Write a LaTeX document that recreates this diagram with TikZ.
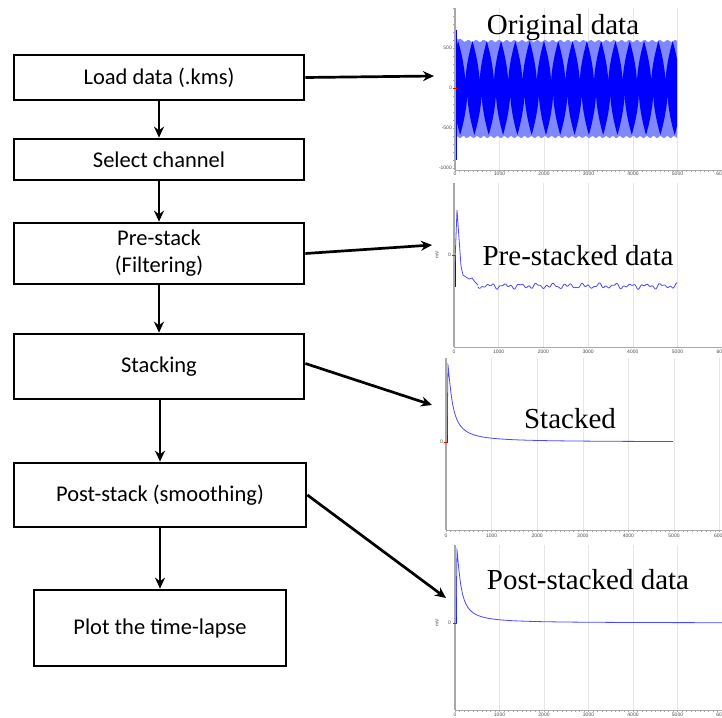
\documentclass[tikz,border=0pt]{standalone}
\usepackage{fontspec}
\setmainfont{Carlito}
\newfontfamily\titlefont{Liberation Serif}
\newfontfamily\tickfont{Liberation Sans}
\usepackage{tikz}
\usetikzlibrary{arrows.meta}
\definecolor{waveblue}{HTML}{0000FF}
\definecolor{envblue}{HTML}{8088FF}
\definecolor{traceblue}{HTML}{4848FF}
\definecolor{gridgray}{HTML}{E6E6E6}
\definecolor{axisgray}{HTML}{A8A8A8}
\tikzstyle{procbox}=[draw=black, line width=2.7pt, minimum width=290pt, font=\fontsize{22.5}{27}\selectfont, align=center, inner sep=0pt]
\tikzstyle{flow}=[->, line width=2.7pt]
\tikzstyle{plottitle}=[font=\titlefont\fontsize{29}{32}\selectfont, inner sep=0pt]
\tikzstyle{ticklab}=[font=\tickfont\fontsize{5}{6}\selectfont, text=black!70, inner sep=0pt]
\tikzstyle{grid line}=[gridgray, line width=0.6pt]
\tikzstyle{axis line}=[axisgray, line width=1.5pt]
\tikzstyle{trace}=[traceblue, line width=0.8pt]

\begin{document}
\begin{tikzpicture}[x=1pt, y=-1pt, >={Stealth[length=11pt, width=10pt]}]
	\useasboundingbox (0,0) rectangle (722,717);

	% original data
	\foreach \i in {1,...,6}
		\draw[grid line] ({455+44.5*\i},8) -- ({455+44.5*\i},170);
	\foreach \i/\lab in {0/0,1/1000,2/2000,3/3000,4/4000,5/5000,6/6000}
		\node[ticklab] at ({455+44.5*\i},174) {\lab};
	\foreach \i in {0,...,60}
		\draw[axisgray, line width=0.4pt] ({455+4.45*\i},170) -- ++(0,2);
	\foreach \j in {0,...,20}
		\draw[axisgray, line width=0.4pt] (455,{168-8*\j}) -- ++(-2,0);
	\foreach \v/\yy in {500/48,0/88,-500/128,-1000/168}
		\node[ticklab, anchor=east] at (452,\yy) {\v};
	\draw[axisgray, line width=0.5pt] (455,170) -- (722,170);
	\fill[envblue] plot[domain=0:222, samples=120] ({455+\x},{41+1.2*sin(47*\x)-6*exp(-\x/3)})
		-- plot[domain=222:0, samples=120] ({455+\x},{137-1.2*sin(53*\x)}) -- cycle;
	\fill[waveblue] plot[domain=0:222, samples=700] ({455+\x},{88-47*(0.1+0.9*pow(1-abs(2*mod(\x+4,14.3)/14.3-1),0.6))})
		-- plot[domain=222:0, samples=700] ({455+\x},{88+47*(0.1+0.9*pow(1-abs(2*mod(\x+2,14.3)/14.3-1),0.6))}) -- cycle;
	\draw[waveblue, line width=1.2pt] (456,30) -- (456,160);
	\draw[axis line] (455,8) -- (455,170);
	\draw[red, line width=0.6pt] (453,88) -- (457,88);
	\node[plottitle] (torig) at (563,28) {Original data};

	% pre-stacked data
	\foreach \i in {1,...,6}
		\draw[grid line] ({454+44.7*\i},183) -- ({454+44.7*\i},347);
	\foreach \i/\lab in {0/0,1/1000,2/2000,3/3000,4/4000,5/5000,6/6000}
		\node[ticklab] at ({454+44.7*\i},352) {\lab};
	\draw[axisgray, line width=0.5pt] (454,347) -- (722,347);
	\draw[waveblue, line width=1pt] (455,255) -- (455,287);
	\draw[trace] (455,262) -- (457,210) -- (459,238) -- (461,266) -- (463,275) -- (466,277)
		-- (469,279) -- (472,278) -- (475,282) -- (478,285);
	\draw[trace] plot[domain=0:199, samples=200] ({478+\x},{286+1.6*sin(23*\x)+1.1*sin(61*\x+40)+0.8*sin(41*\x+10)});
	\draw[axis line] (454,183) -- (454,347);
	\draw[red, line width=0.6pt] (452,255) -- (456,255);
	\node[ticklab, anchor=east] at (451,255) {0};
	\node[ticklab, rotate=90] at (437,255) {mV};
	\node[plottitle] (tpre) at (578,256) {Pre-stacked data};

	% stacked
	\foreach \i in {1,...,6}
		\draw[grid line] ({446+45.6*\i},358) -- ({446+45.6*\i},530);
	\foreach \i/\lab in {0/0,1/1000,2/2000,3/3000,4/4000,5/5000,6/6000}
		\node[ticklab] at ({446+45.6*\i},536) {\lab};
	\foreach \i in {0,...,60}
		\draw[axisgray, line width=0.4pt] ({446+4.56*\i},530) -- ++(0,2);
	\draw[axisgray, line width=0.5pt] (446,530) -- (722,530);
	\draw[waveblue, line width=1pt] (447,442) -- (447,400);
	\draw[trace] (447,442) -- (448,365) -- plot[domain=0.01:225, samples=150] ({448+\x},{442-77/(1+pow(\x/4.5,1.3))});
	\draw[axis line] (446,358) -- (446,530);
	\draw[red, line width=0.6pt] (444,442) -- (448,442);
	\node[ticklab, anchor=east] at (443,442) {0};
	\node[plottitle] (tstk) at (570,419) {Stacked};

	% post-stacked data
	\foreach \i in {1,...,6}
		\draw[grid line] ({455+44.5*\i},545) -- ({455+44.5*\i},710);
	\foreach \i/\lab in {0/0,1/1000,2/2000,3/3000,4/4000,5/5000,6/6000}
		\node[ticklab] at ({455+44.5*\i},715) {\lab};
	\foreach \i in {0,...,60}
		\draw[axisgray, line width=0.4pt] ({455+4.45*\i},710) -- ++(0,2);
	\draw[axisgray, line width=0.5pt] (455,710) -- (722,710);
	\draw[waveblue, line width=1pt] (456,623) -- (456,585);
	\draw[trace] (456,623) -- (457,550) -- plot[domain=0.01:265, samples=150] ({457+\x},{623-73/(1+pow(\x/4,1.3))});
	\draw[axis line] (455,545) -- (455,710);
	\draw[red, line width=0.6pt] (453,623) -- (457,623);
	\node[ticklab, anchor=east] at (451,623) {0};
	\node[ticklab, rotate=90] at (437,623) {mV};
	\node[plottitle] (tpost) at (588,580) {Post-stacked data};

	% flow chart
	\node[procbox, minimum height=45pt] (load) at (159,77.5) {Load data (.kms)};
	\node[procbox, minimum height=41pt] (select) at (159,159.5) {Select channel};
	\node[procbox, minimum height=61pt] (prestack) at (159,253.5) {Pre-stack\\(Filtering)};
	\node[procbox, minimum height=65pt] (stacking) at (159,366.5) {Stacking};
	\node[procbox, minimum height=64pt, minimum width=292pt] (poststack) at (160,495) {Post-stack (smoothing)};
	\node[procbox, minimum height=76pt, minimum width=252pt] (plot) at (160,628) {Plot the time-lapse};

	\coordinate (origin) at (434,76);
	\coordinate (prein) at (432,245);
	\coordinate (stkin) at (432,405);
	\coordinate (postin) at (446,598);

	\draw[flow] (load.south) -- (select.north);
	\draw[flow] (select.south) -- (prestack.north);
	\draw[flow] (prestack.south) -- (stacking.north);
	\draw[flow] (stacking.south -| poststack.north) -- (poststack.north);
	\draw[flow] (poststack.south) -- (plot.north);
	\draw[flow] (load.east) -- (origin);
	\draw[flow] (prestack.east) -- (prein);
	\draw[flow] ([yshift=3pt]stacking.east) -- (stkin);
	\draw[flow] (poststack.east) -- (postin);
\end{tikzpicture}
\end{document}
